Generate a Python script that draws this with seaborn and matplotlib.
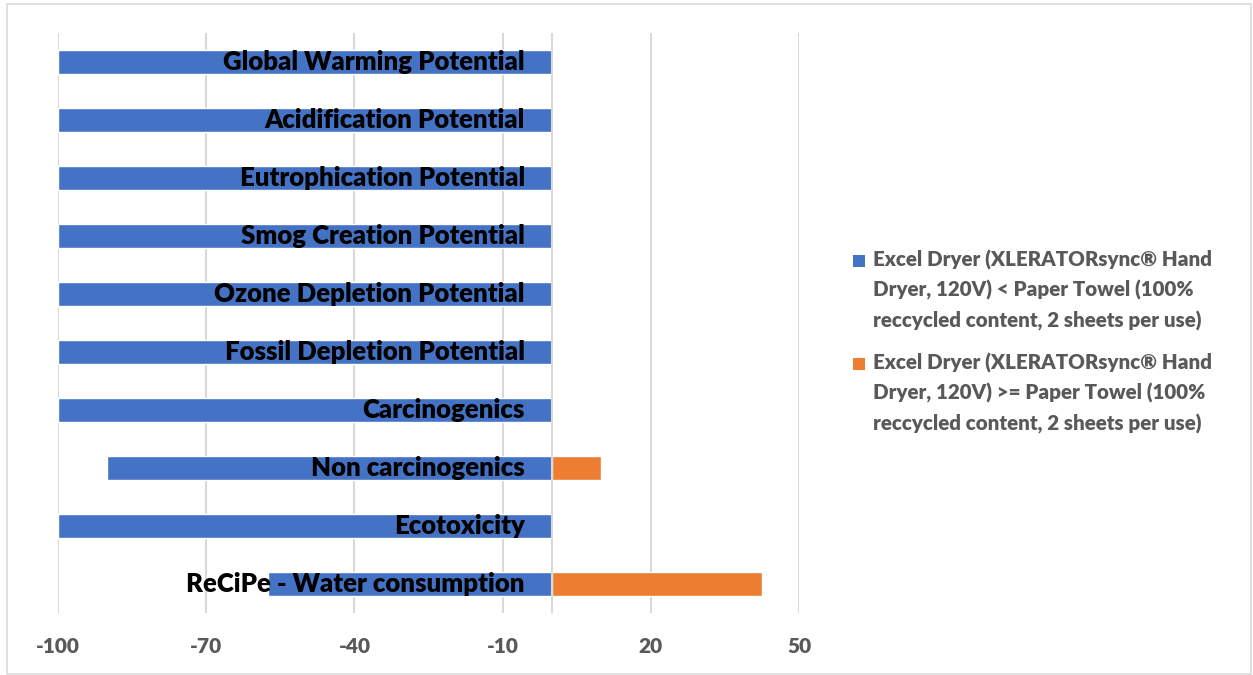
import matplotlib
matplotlib.use("Agg")
import matplotlib.pyplot as plt
import matplotlib.transforms as mtransforms
from matplotlib.patches import Rectangle
import pandas as pd
import seaborn as sns

# Impact categories, top to bottom
categories = [
    "Global Warming Potential",
    "Acidification Potential",
    "Eutrophication Potential",
    "Smog Creation Potential",
    "Ozone Depletion Potential",
    "Fossil Depletion Potential",
    "Carcinogenics",
    "Non carcinogenics",
    "Ecotoxicity",
    "ReCiPe - Water consumption",
]
# Share of scenarios (%) where the dryer scores lower / not lower than paper towel
dryer_lower = [-100, -100, -100, -100, -100, -100, -100, -90, -100, -57.5]
dryer_not_lower = [0, 0, 0, 0, 0, 0, 0, 10, 0, 42.5]
series_names = [
    "Excel Dryer (XLERATORsync® Hand\nDryer, 120V) < Paper Towel (100%\nreccycled content, 2 sheets per use)",
    "Excel Dryer (XLERATORsync® Hand\nDryer, 120V) >= Paper Towel (100%\nreccycled content, 2 sheets per use)",
]
x_ticks = [-100, -70, -40, -10, 20, 50]

BLUE = "#4472C4"
ORANGE = "#ED7D31"
GRID = "#D9D9D9"
TICK_GRAY = "#595959"
FONT = "Lato"

sns.set_theme(style="white")
plt.rcParams["font.family"] = [FONT, "DejaVu Sans"]

W, H = 1253, 675
fig = plt.figure(figsize=(W / 100, H / 100), dpi=100)
ax = fig.add_axes([58 / W, 1 - 613 / H, (799 - 58) / W, (613 - 33) / H])

df = pd.DataFrame({
    "category": categories * 2,
    "value": dryer_lower + dryer_not_lower,
    "series": [series_names[0]] * len(categories) + [series_names[1]] * len(categories),
})
sns.barplot(
    data=df, y="category", x="value", hue="series", orient="h",
    palette=[BLUE, ORANGE], dodge=False, width=0.4, saturation=1,
    legend=False, ax=ax, zorder=2,
)

ax.set_xlim(-100, 50)
ax.set_ylim(len(categories) - 0.5, -0.5)
ax.set_xticks(x_ticks)
ax.set_xticklabels([str(t) for t in x_ticks])
ax.tick_params(axis="x", length=0, pad=17.5, labelsize=15, labelcolor=TICK_GRAY)
for lab in ax.get_xticklabels():
    lab.set_fontweight("heavy")
ax.set_yticks([])
ax.set_xlabel("")
ax.set_ylabel("")
for s in ax.spines.values():
    s.set_visible(False)

# vertical gridlines behind bars, zero line drawn over them
for t in x_ticks:
    ax.axvline(t, color=GRID, lw=1.5, zorder=0)
ax.axvline(0, color=GRID, lw=1.5, zorder=3)

# category labels anchored just left of zero
lab_tr = mtransforms.offset_copy(ax.transData, fig=fig, x=-27, y=0, units="dots")
for i, c in enumerate(categories):
    ax.text(0, i, c, transform=lab_tr, ha="right", va="center",
            fontsize=18.5, fontweight="heavy", color="black", zorder=5)

# legend on the right
entry_tops = [250, 353]
for top, color, name in zip(entry_tops, [BLUE, ORANGE], series_names):
    fig.add_artist(Rectangle((853 / W, 1 - (top + 17) / H), 12 / W, 12 / H,
                             transform=fig.transFigure, color=color, lw=0))
    fig.text(873 / W, 1 - top / H, name, ha="left", va="top",
             fontsize=14.8, fontweight="heavy", color=TICK_GRAY, linespacing=1.62)

# chart frame
fig.add_artist(Rectangle((7 / W, 1 / H), (W - 9) / W, (H - 5) / H,
                         transform=fig.transFigure, fill=False,
                         edgecolor=GRID, lw=1.2))

fig.savefig("out.png", dpi=100, facecolor="white")
